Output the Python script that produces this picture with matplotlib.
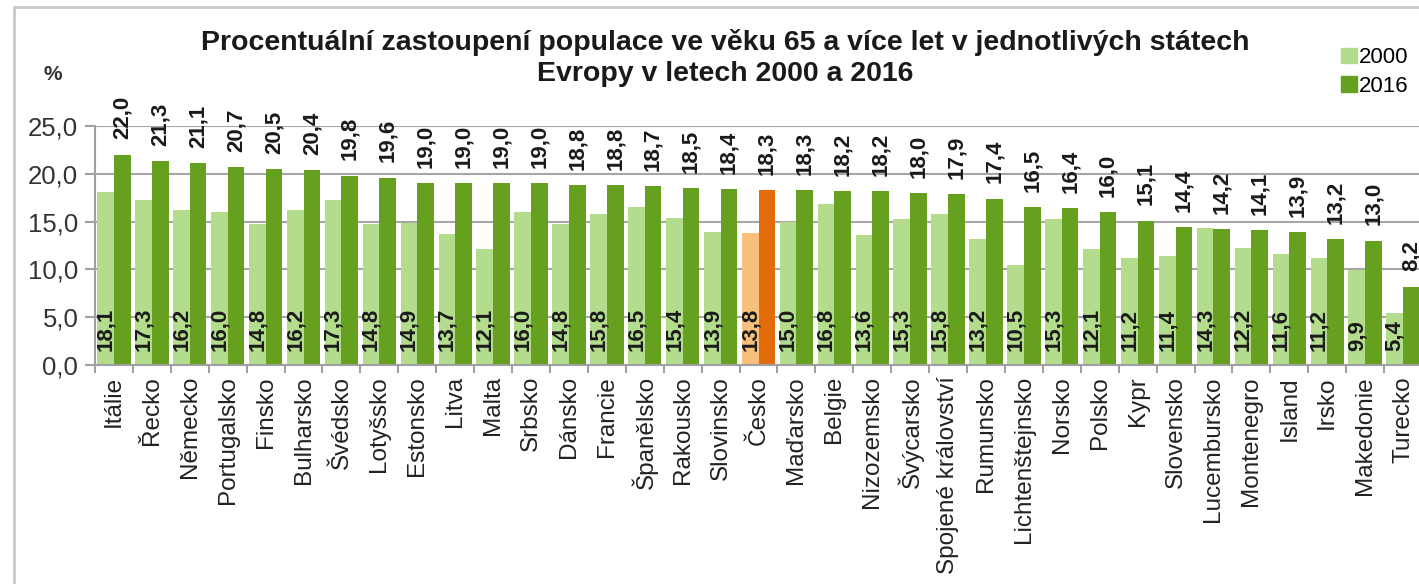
import numpy as np
import matplotlib.pyplot as plt
from matplotlib.patches import Rectangle
from matplotlib.ticker import FixedLocator, FuncFormatter

countries = ['Itálie', 'Řecko', 'Německo', 'Portugalsko', 'Finsko', 'Bulharsko',
             'Švédsko', 'Lotyšsko', 'Estonsko', 'Litva', 'Malta', 'Srbsko',
             'Dánsko', 'Francie', 'Španělsko', 'Rakousko', 'Slovinsko', 'Česko',
             'Maďarsko', 'Belgie', 'Nizozemsko', 'Švýcarsko', 'Spojené království',
             'Rumunsko', 'Lichtenštejnsko', 'Norsko', 'Polsko', 'Kypr', 'Slovensko',
             'Lucembursko', 'Montenegro', 'Island', 'Irsko', 'Makedonie', 'Turecko']
y2000 = [18.1, 17.3, 16.2, 16.0, 14.8, 16.2, 17.3, 14.8, 14.9, 13.7, 12.1, 16.0,
         14.8, 15.8, 16.5, 15.4, 13.9, 13.8, 15.0, 16.8, 13.6, 15.3, 15.8, 13.2,
         10.5, 15.3, 12.1, 11.2, 11.4, 14.3, 12.2, 11.6, 11.2, 9.9, 5.4]
y2016 = [22.0, 21.3, 21.1, 20.7, 20.5, 20.4, 19.8, 19.6, 19.0, 19.0, 19.0, 19.0,
         18.8, 18.8, 18.7, 18.5, 18.4, 18.3, 18.3, 18.2, 18.2, 18.0, 17.9, 17.4,
         16.5, 16.4, 16.0, 15.1, 14.4, 14.2, 14.1, 13.9, 13.2, 13.0, 8.2]
highlight = 'Česko'
title = ('Procentuální zastoupení populace ve věku 65 a více let v jednotlivých státech\n'
         'Evropy v letech 2000 a 2016')

plt.rcParams['font.family'] = ['Liberation Sans', 'DejaVu Sans']

W, H = 1419, 584
fig = plt.figure(figsize=(W / 100, H / 100), dpi=100)

# outer chart frame (cut off at right and bottom, as in the source)
fig.patches.append(Rectangle((14 / W, -0.1), 1.2, 1 - 7 / H + 0.1,
                             transform=fig.transFigure, fill=False,
                             edgecolor='#c8c8c8', lw=2))

ax = fig.add_axes([95 / W, 1 - 365 / H, (1422 - 95) / W, (365 - 126) / H])

light, dark = '#b3dd8c', '#65a11f'
light_hl, dark_hl = '#f8c07a', '#e36c0a'
c0 = [light_hl if c == highlight else light for c in countries]
c1 = [dark_hl if c == highlight else dark for c in countries]

x = np.arange(len(countries))
w = 0.44
ax.bar(x - w / 2, y2000, w, color=c0, zorder=2)
ax.bar(x + w / 2, y2016, w, color=c1, zorder=2)

fmt = lambda v: '{:.1f}'.format(v).replace('.', ',')
for xi, a, b in zip(x, y2000, y2016):
    ax.annotate(fmt(b), (xi + w / 2, b), xytext=(0, 11), textcoords='offset points',
                rotation=90, ha='center', va='bottom', fontsize=16, fontweight='bold',
                color='#1a1a1a', annotation_clip=False)
    ax.annotate(fmt(a), (xi - w / 2, 0), xytext=(0, 10), textcoords='offset points',
                rotation=90, ha='center', va='bottom', fontsize=16, fontweight='bold',
                color='#1a1a1a', annotation_clip=False, zorder=3)

ax.set_xlim(-0.5, len(countries) - 0.5)
ax.set_ylim(0, 25)
ax.set_yticks(np.arange(0, 26, 5))
ax.yaxis.set_major_formatter(FuncFormatter(lambda v, p: fmt(v)))
ax.set_xticks(x)
ax.set_xticklabels(countries, rotation=90, fontsize=17.5, color='#222222')
ax.xaxis.set_minor_locator(FixedLocator(np.arange(-0.5, len(countries), 1)))
ax.tick_params(axis='x', which='major', length=0, pad=8)
ax.tick_params(axis='x', which='minor', length=6, width=1.5, color='#a0a0a0')
ax.tick_params(axis='y', length=7, width=1.5, color='#a0a0a0', labelsize=18.5,
               labelcolor='#333333', pad=5)
ax.yaxis.grid(True, color='#a6a6a6', lw=1.5, zorder=0)
ax.set_axisbelow(True)
for s in ['top', 'right']:
    ax.spines[s].set_visible(False)
for s in ['left', 'bottom']:
    ax.spines[s].set_color('#a0a0a0')
    ax.spines[s].set_linewidth(1.5)

fig.text(725 / W, 1 - 58 / H, title, ha='center', va='center', fontsize=20.5,
         fontweight='bold', color='#1a1a1a', linespacing=1.22)
fig.text(53 / W, 1 - 75 / H, '%', ha='center', va='center', fontsize=15,
         fontweight='bold', color='#333333')

handles = [Rectangle((0, 0), 1, 1, color=light), Rectangle((0, 0), 1, 1, color=dark)]
fig.legend(handles, ['2000', '2016'], loc='upper left',
           bbox_to_anchor=(1330 / W, 1 - 36 / H), frameon=False, fontsize=16,
           handlelength=0.7, handleheight=0.7, handletextpad=0.1,
           labelspacing=0.35, borderpad=0)

fig.savefig('out.png', dpi=100)
